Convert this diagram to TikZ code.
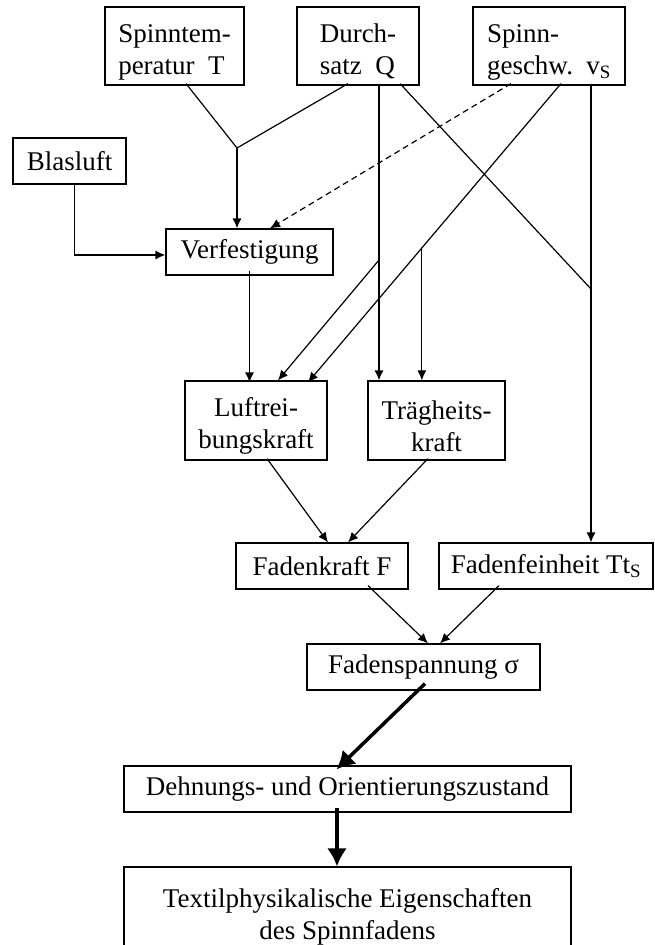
\documentclass[tikz,border=0pt]{standalone}
\usepackage{fontspec}
\setmainfont{Liberation Serif}
\usetikzlibrary{calc,arrows.meta}

\begin{document}
\begin{tikzpicture}[x=1pt,y=-1pt,line width=1.2pt,
  box/.style={draw,inner sep=0pt,font=\fontsize{27}{32}\selectfont},
  zwei/.style={box,text height=62pt},
  pfeil/.style={-{Latex[length=10pt,width=9pt]}},
  dick/.style={line width=3.5pt,-{Latex[length=18pt,width=20pt]}}]
\useasboundingbox (0,0) rectangle (655,945);
\clip (0,0) rectangle (655,945);
%%%% Eingangsgroessen
\node[zwei,align=left,minimum width=139pt,minimum height=78pt] (temp) at (174.5,46) {Spinntem-\\peratur\ \ T};
\node[zwei,align=left,minimum width=122pt,minimum height=78pt] (durch) at (358,46) {Durch-\\satz\ \ Q};
\node[zwei,align=left,minimum width=152pt,minimum height=78pt] (geschw) at (549,46) {Spinn-\\geschw.\ \ v\textsubscript{S}};
\node[box,minimum width=113pt,minimum height=46pt] (blas) at (69.5,161) {Blasluft};
\node[box,minimum width=167pt,minimum height=46pt] (verf) at (249.5,252) {Verfestigung};
%%%% Kraefte
\node[zwei,align=center,minimum width=142pt,minimum height=79pt] (luft) at (256,420.5) {Luftrei-\\bungskraft};
\node[zwei,align=center,minimum width=137pt,minimum height=79pt] (traeg) at (436.5,420.5) {Trägheits-\\kraft};
\node[box,minimum width=172pt,minimum height=46pt] (fkraft) at (322,566) {Fadenkraft F};
\node[box,minimum width=214pt,minimum height=46pt] (ffein) at (546,566) {Fadenfeinheit Tt\textsubscript{S}};
\node[box,minimum width=233pt,minimum height=46pt] (fspann) at (423.5,667) {Fadenspannung σ};
%%%% Ergebnis
\node[box,minimum width=447pt,minimum height=46pt] (dehn) at (347.5,789) {Dehnungs- und Orientierungszustand};
\node[box,text height=50pt,align=center,minimum width=447pt,minimum height=100pt] (textil) at (347.5,917) {Textilphysikalische Eigenschaften\\des Spinnfadens};
%
\coordinate (J) at (237,148);
\coordinate (qv) at ([xshift=21pt,yshift=2pt]durch.south);
\coordinate (qd) at ([xshift=42pt,yshift=2pt]durch.south);
\coordinate (vv) at ([xshift=42pt,yshift=2pt]geschw.south);
\coordinate (vd) at ([xshift=12pt,yshift=2pt]geschw.south);
\coordinate (vend) at ([xshift=52pt,yshift=-2pt]luft.north);
\coordinate (B) at ($(vd)!0.55!(vend)$);
%
\draw ([xshift=11.5pt,yshift=2pt]temp.south) -- (J);
\draw ([xshift=-10pt,yshift=2pt]durch.south) -- (J);
\draw[pfeil] (J) -- (J |- verf.north);
\draw[pfeil,dash pattern=on 6pt off 4pt] ([xshift=-38pt,yshift=2pt]geschw.south) -- ([xshift=20.5pt]verf.north);
\draw[pfeil] ([xshift=5pt]blas.south) |- ([yshift=-3pt]verf.west);
%%%Durchsatz
\draw[pfeil] (qv) -- (qv |- traeg.north);
\draw (qd) -- (vv |- 0,289);
\draw[pfeil] (qv |- 0,260) -- ([xshift=22pt]luft.north);
%%%Spinngeschwindigkeit
\draw[pfeil] (vv) -- (vv |- ffein.north);
\draw[pfeil] (vd) -- (vend);
\draw[pfeil] (B) -- (B |- traeg.north);
\draw[pfeil] ([yshift=5pt]verf.south) -- ([yshift=-2pt]verf.south |- luft.north);
%%%Kraefte
\draw[pfeil] ([xshift=11pt,yshift=2pt]luft.south) -- ([xshift=6pt]fkraft.north);
\draw[pfeil] ([xshift=-8.5pt,yshift=2pt]traeg.south) -- ([xshift=26pt]fkraft.north);
\draw[pfeil] ([xshift=46pt,yshift=4pt]fkraft.south) -- ([xshift=4.5pt]fspann.north);
\draw[pfeil] ([xshift=-47pt,yshift=4pt]ffein.south) -- ([xshift=16.5pt]fspann.north);
\draw[dick] ([xshift=1.5pt,yshift=7pt]fspann.south) -- ([xshift=-11pt,yshift=-4pt]dehn.north);
\draw[dick] ([xshift=-10.5pt,yshift=5pt]dehn.south) -- ([xshift=-10.5pt]textil.north);
\end{tikzpicture}
\end{document}
